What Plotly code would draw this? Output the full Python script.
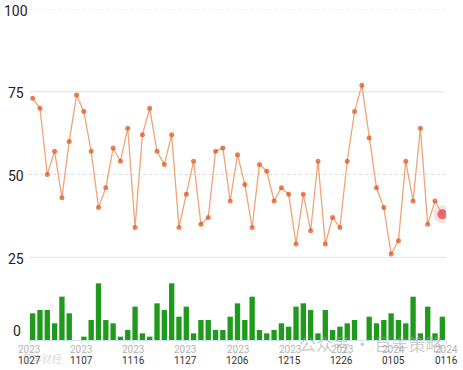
import plotly.graph_objects as go

# ---- data ----
years = ["2023"] * 46 + ["2024"] * 11
dates = ["1027", "1030", "1031", "1101", "1102", "1103", "1106", "1107", "1108", "1109",
         "1110", "1113", "1114", "1115", "1116", "1117", "1120", "1121", "1122", "1123",
         "1124", "1127", "1128", "1129", "1130", "1201", "1204", "1205", "1206", "1207",
         "1208", "1211", "1212", "1213", "1214", "1215", "1218", "1219", "1220", "1221",
         "1222", "1225", "1226", "1227", "1228", "1229",
         "0102", "0103", "0104", "0105", "0108", "0109", "0110", "0111", "0112", "0115", "0116"]
categories = [y + d for y, d in zip(years, dates)]

line_values = [73, 70, 50, 57, 43, 60, 74, 69, 57, 40,
               46, 58, 54, 64, 34, 62, 70, 57, 53, 62,
               34, 44, 54, 35, 37, 57, 58, 42, 56, 47,
               34, 53, 51, 42, 46, 44, 29, 44, 33, 54,
               29, 37, 34, 54, 69, 77, 61, 46, 40, 26,
               30, 54, 42, 64, 35, 42, 38]

bar_values = [8, 9, 9, 5, 13, 8, 0, 1, 6, 17,
              6, 5, 1, 3, 10, 2, 1, 11, 9, 17,
              7, 10, 2, 6, 6, 3, 3, 7, 11, 6,
              13, 3, 2, 3, 5, 4, 10, 11, 9, 2,
              9, 3, 4, 5, 6, 0, 7, 5, 6, 8,
              6, 5, 13, 2, 10, 2, 7]

y_ticks = [100, 75, 50, 25]
y_grid_styles = {100: ("#dcdcdc", "dot"), 75: ("#d4e4f4", "solid"),
                 50: ("#dcdcdc", "dot"), 25: ("#d4e4f4", "solid")}
tick_index = list(range(0, len(categories), 7))

# ---- figure ----
fig = go.Figure()

fig.add_trace(go.Bar(
    x=categories, y=bar_values, yaxis="y2",
    marker=dict(color="#1f9a1c", line=dict(width=0)),
    hoverinfo="skip", showlegend=False))

# halo on last point
fig.add_trace(go.Scatter(
    x=[categories[-1]], y=[line_values[-1]], mode="markers",
    marker=dict(size=18, color="rgba(235,70,70,0.16)"),
    hoverinfo="skip", showlegend=False))

n = len(line_values)
sizes = [5] * (n - 1) + [10]
colors = ["#dc4e14"] * (n - 1) + ["#e8333a"]
fig.add_trace(go.Scatter(
    x=categories, y=line_values, mode="lines+markers",
    line=dict(color="#f0a478", width=1.3),
    marker=dict(size=sizes, color=colors, line=dict(width=0)),
    showlegend=False))

# label axis trace anchor (empty)
fig.add_trace(go.Scatter(x=[], y=[], xaxis="x2", showlegend=False, hoverinfo="skip"))

shapes = []
for v in y_ticks:
    c, d = y_grid_styles[v]
    shapes.append(dict(type="line", xref="paper", x0=0, x1=1, yref="y", y0=v, y1=v,
                       line=dict(color=c, width=1, dash=d), layer="below"))

annotations = []
for v in y_ticks:
    annotations.append(dict(text=str(v), xref="paper", x=0, xshift=-13, xanchor="center",
                            yref="y", y=v, yshift=-1.5, yanchor="middle", showarrow=False,
                            font=dict(family="Roboto", size=14, color="#222")))
annotations.append(dict(text="0", xref="paper", x=0, xshift=-12, xanchor="center",
                        yref="y2", y=0, yshift=9, yanchor="middle", showarrow=False,
                        font=dict(family="Roboto", size=14, color="#222")))
for i in tick_index:
    annotations.append(dict(text=years[i], xref="x2", x=i, yref="y", y=0, yshift=-9,
                            xanchor="center", yanchor="middle", showarrow=False,
                            font=dict(family="Roboto", size=10, color="#b4b4b4")))
    annotations.append(dict(text=dates[i], xref="x2", x=i, yref="y", y=0, yshift=-20,
                            xanchor="center", yanchor="middle", showarrow=False,
                            font=dict(family="Roboto", size=10, color="#333")))

# watermarks
annotations.append(dict(text="公众号 · 巨丰策略", xref="paper", yref="paper", x=0.82, y=-0.01,
                        xanchor="center", yanchor="middle", showarrow=False,
                        font=dict(family="Noto Sans CJK SC", size=17, color="rgba(160,160,160,0.55)")))
annotations.append(dict(text="巨丰财经", xref="paper", yref="paper", x=0.03, y=-0.055,
                        xanchor="center", yanchor="middle", showarrow=False,
                        font=dict(family="Noto Sans CJK SC", size=10, color="rgba(170,170,170,0.45)")))

fig.update_layout(
    width=463, height=370,
    margin=dict(l=29, r=17, t=9, b=30),
    paper_bgcolor="white", plot_bgcolor="white",
    bargap=0.27,
    xaxis=dict(type="category", range=[-0.5, n - 0.5], visible=False),
    xaxis2=dict(overlaying="x", anchor="y", range=[0, n - 1], showgrid=False, zeroline=False,
                showline=True, linecolor="#cfe1f3", linewidth=1,
                ticks="outside", ticklen=3, tickcolor="#cfe1f3",
                tickvals=tick_index, showticklabels=False, side="bottom"),
    yaxis=dict(range=[0, 100], visible=False),
    yaxis2=dict(range=[0, 99.3], overlaying="y", visible=False),
    shapes=shapes, annotations=annotations,
    hovermode=False,
)

fig.write_html("out.html")
